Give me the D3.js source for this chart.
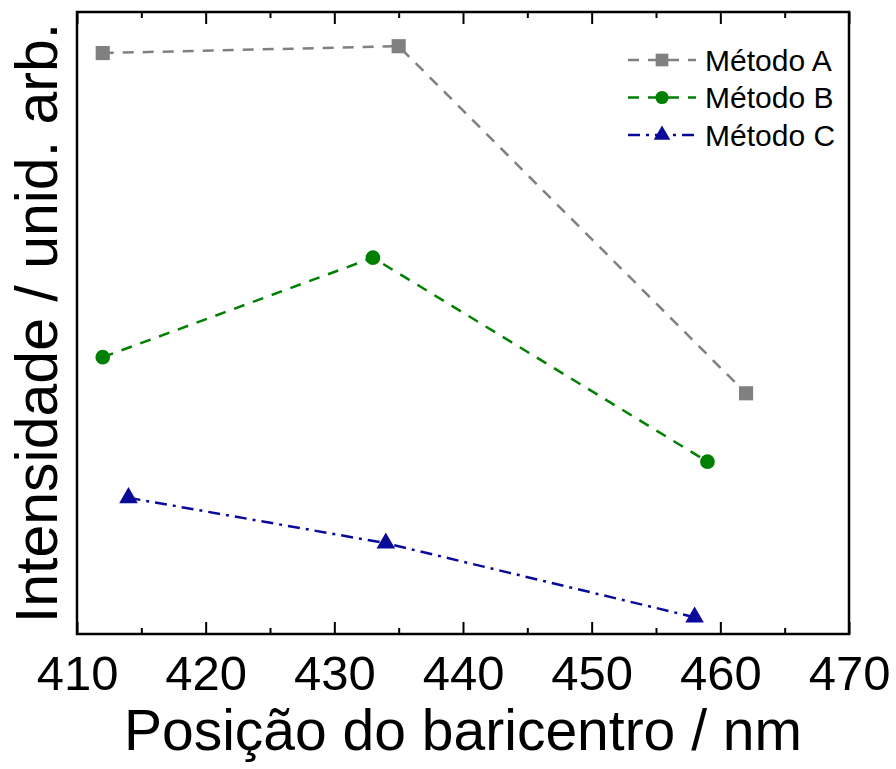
<!DOCTYPE html>
<html>
<head>
<meta charset="utf-8">
<script src="https://cdn.jsdelivr.net/npm/d3@7"></script>
<style>
  body { margin: 0; background: #fff; }
  svg text { font-family: "Liberation Sans", Arial, sans-serif; fill: #000; }
</style>
</head>
<body>
<div id="chart"></div>
<script>
// series data (x = baricentre position in nm, y = intensity, arbitrary units)
var seriesNames = ["Método A", "Método B", "Método C"];
var xA = [412, 435, 462];
var yA = [93.4, 94.5, 38.7];
var xB = [412, 433, 459];
var yB = [44.5, 60.5, 27.7];
var xC = [414, 434, 458];
var yC = [21.9, 14.6, 2.7];
var xTicks = [410, 420, 430, 440, 450, 460, 470];

var width = 896, height = 769;
var margin = { left: 77, right: 47, top: 12, bottom: 135 };

var svg = d3.select("#chart")
    .append("svg")
    .attr("width", width)
    .attr("height", height);

var x = d3.scaleLinear().domain([410, 470]).range([margin.left, width - margin.right]);
var y = d3.scaleLinear().domain([0, 100]).range([height - margin.bottom, margin.top]);

var series = [
    { name: seriesNames[0], xs: xA, ys: yA, color: "#808080", dash: "11,9", symbol: d3.symbolSquare, size: 200 },
    { name: seriesNames[1], xs: xB, ys: yB, color: "#008000", dash: "11,9", symbol: d3.symbolCircle, size: 170 },
    { name: seriesNames[2], xs: xC, ys: yC, color: "#0a0a9a", dash: "12,6,3,6", symbol: d3.symbolTriangle, size: 150 }
];

// bottom axis, ticks inside
var bottomAxis = svg.append("g")
    .attr("transform", "translate(0," + y.range()[0] + ")");
bottomAxis.append("g")
    .call(d3.axisBottom(x).tickValues(d3.range(415, 470, 10)).tickSize(-6).tickFormat(""));
bottomAxis.append("g")
    .call(d3.axisBottom(x).tickValues(xTicks).tickSize(-12).tickPadding(22));
bottomAxis.selectAll(".domain").remove();
bottomAxis.selectAll("line").attr("stroke", "#000").attr("stroke-width", 2);
bottomAxis.selectAll("text").attr("font-size", 49).attr("dy", "0.71em").attr("y", 21);

// top axis, ticks inside
var topAxis = svg.append("g")
    .attr("transform", "translate(0," + y.range()[1] + ")");
topAxis.append("g").call(d3.axisTop(x).tickValues(d3.range(415, 470, 10)).tickSize(-6).tickFormat(""));
topAxis.append("g").call(d3.axisTop(x).tickValues(xTicks).tickSize(-12).tickFormat(""));
topAxis.selectAll(".domain").remove();
topAxis.selectAll("line").attr("stroke", "#000").attr("stroke-width", 2);

// frame
svg.append("rect")
    .attr("x", x.range()[0])
    .attr("y", y.range()[1])
    .attr("width", x.range()[1] - x.range()[0])
    .attr("height", y.range()[0] - y.range()[1])
    .attr("fill", "none")
    .attr("stroke", "#000")
    .attr("stroke-width", 2.5);

// lines and markers
var line = d3.line().x(d => x(d[0])).y(d => y(d[1]));
series.forEach(function(s) {
    var pts = s.xs.map((v, i) => [v, s.ys[i]]);
    svg.append("path")
        .datum(pts)
        .attr("d", line)
        .attr("fill", "none")
        .attr("stroke", s.color)
        .attr("stroke-width", 2.5)
        .attr("stroke-dasharray", s.dash);
    svg.selectAll(null)
        .data(pts)
        .enter().append("path")
        .attr("transform", d => "translate(" + x(d[0]) + "," + y(d[1]) + ")")
        .attr("d", d3.symbol().type(s.symbol).size(s.size))
        .attr("fill", s.color);
});

// legend
var legend = svg.append("g").attr("transform", "translate(628,60)");
series.forEach(function(s, i) {
    var g = legend.append("g").attr("transform", "translate(0," + (i * 37.5) + ")");
    g.append("line")
        .attr("x1", 0).attr("x2", 68)
        .attr("stroke", s.color)
        .attr("stroke-width", 2.5)
        .attr("stroke-dasharray", s.dash);
    g.append("path")
        .attr("transform", "translate(34,0)")
        .attr("d", d3.symbol().type(s.symbol).size(s.size * 0.8))
        .attr("fill", s.color);
    g.append("text")
        .attr("x", 77)
        .attr("dy", "0.36em")
        .attr("font-size", 30)
        .text(s.name);
});

// axis titles
svg.append("text")
    .attr("x", (x.range()[0] + x.range()[1]) / 2)
    .attr("y", 750)
    .attr("text-anchor", "middle")
    .attr("font-size", 57)
    .text("Posição do baricentro / nm");

svg.append("text")
    .attr("transform", "translate(57," + ((y.range()[0] + y.range()[1]) / 2) + ") rotate(-90)")
    .attr("text-anchor", "middle")
    .attr("font-size", 59)
    .text("Intensidade / unid. arb.");
</script>
</body>
</html>
